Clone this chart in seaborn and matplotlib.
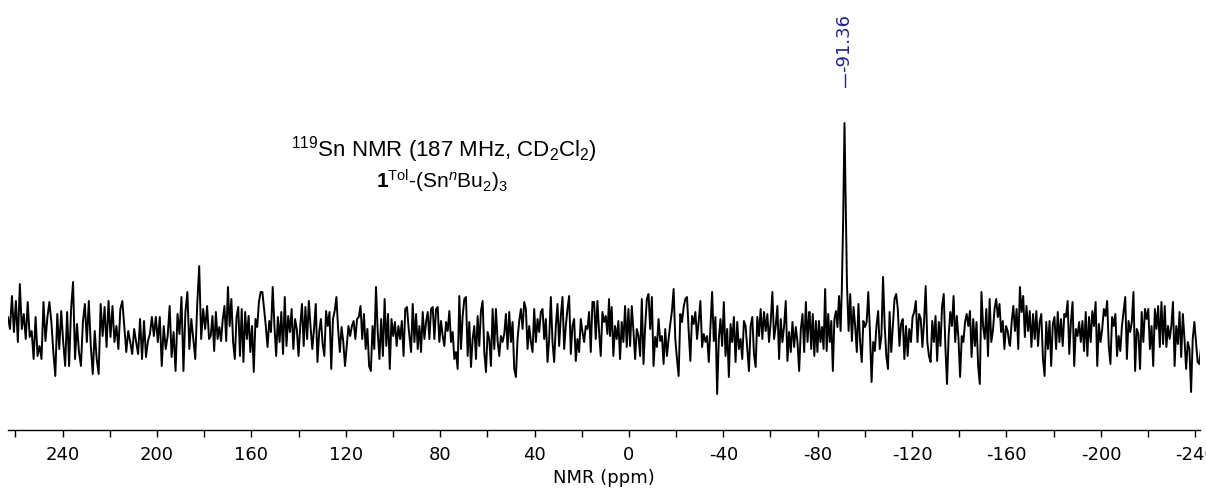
import numpy as np
import pandas as pd
import matplotlib
matplotlib.use("Agg")
import matplotlib.pyplot as plt
import matplotlib.transforms as mtransforms
from matplotlib.ticker import MultipleLocator
import seaborn as sns

# ---- data ----
# chemical-shift range (ppm) covered by each noise segment (start, end)
seg_bounds = [(263.1, 177.9), (177.2, 93.3), (92.3, 8.4), (8.0, -76.4),
              (-76.6, -89.7), (-93.1, -161.2), (-161.5, -242.4)]

seg1 = [92, 80, 113, 77, 108, 67, 125, 80, 95, 70, 107, 72, 78, 50, 92, 53, 63, 50, 107, 68,
        92, 107, 87, 57, 33, 95, 60, 98, 67, 43, 97, 43, 100, 127, 50, 85, 57, 43, 87, 105,
        67, 108, 63, 35, 78, 50, 35, 105, 73, 102, 62, 108, 72, 103, 67, 83, 60, 100, 108, 83,
        57, 78, 67, 55, 80, 67, 55, 90, 50, 88, 52, 68, 75, 92, 73, 92, 67, 92, 43, 83,
        60, 73, 103, 52, 77, 38, 95, 75, 112, 38, 97, 117, 60, 90, 70, 50, 105, 143, 70, 100,
        80, 103, 70]
seg2 = [73, 93, 58, 97, 70, 82, 68, 90, 103, 68, 122, 83, 110, 67, 50, 92, 102, 53, 100, 47,
        97, 70, 93, 57, 83, 37, 90, 82, 107, 117, 117, 100, 83, 62, 88, 77, 122, 83, 53, 92,
        67, 97, 55, 112, 63, 93, 77, 100, 60, 90, 80, 53, 83, 105, 63, 102, 70, 108, 82, 60,
        80, 105, 47, 77, 90, 65, 53, 98, 83, 97, 40, 90, 98, 112, 80, 57, 82, 67, 43, 63,
        83, 73, 83, 88, 70, 90, 92, 103, 70, 95, 60, 80, 43, 38, 83, 60, 122, 77, 50, 90,
        53, 110, 63, 95, 40, 90, 73, 87, 63, 83, 70, 88, 53, 100, 102, 80]
seg3 = [57, 105, 67, 95, 60, 83, 57, 97, 70, 87, 97, 70, 100, 102, 70, 100, 102, 67, 88, 73,
        63, 87, 78, 98, 67, 77, 50, 57, 40, 113, 60, 93, 110, 112, 53, 87, 42, 70, 83, 50,
        93, 63, 98, 108, 57, 37, 77, 70, 43, 100, 60, 100, 68, 53, 73, 67, 75, 95, 60, 97,
        67, 87, 40, 32, 70, 88, 100, 80, 107, 100, 60, 83, 67, 57, 100, 67, 90, 77, 97, 100,
        70, 90, 47, 70, 112, 67, 47, 83, 105, 63, 93, 112, 60, 83, 100, 113, 55, 83, 90, 48,
        70, 57, 90, 77, 67, 83, 80, 97, 57, 107, 107, 70, 108, 77, 53, 97, 87, 93, 75, 110]
seg4 = [73, 102, 53, 83, 70, 88, 50, 87, 67, 103, 62, 100, 63, 103, 78, 50, 80, 73, 53, 110,
        45, 82, 110, 115, 80, 112, 43, 72, 62, 90, 68, 73, 45, 80, 53, 70, 85, 98, 120, 70,
        50, 33, 95, 87, 102, 110, 112, 78, 48, 93, 85, 97, 70, 88, 108, 62, 75, 67, 73, 47,
        83, 117, 68, 92, 15, 70, 90, 63, 107, 53, 80, 32, 85, 67, 92, 47, 87, 60, 70, 50,
        88, 83, 60, 38, 83, 92, 55, 42, 92, 73, 100, 70, 97, 78, 95, 67, 87, 117, 70, 83,
        103, 50, 90, 67, 83, 108, 48, 77, 57, 87, 62, 82, 67, 38, 80, 95, 57, 107, 67, 97]
seg5a = [97, 60, 95, 53, 88, 57, 88, 67, 82, 60, 120, 58, 95, 67, 88, 38, 90, 98, 82, 113, 78]
seg5b = [78, 115, 68, 102, 83, 57, 105, 67, 47, 88, 82, 87, 117, 77, 27, 67, 58, 83, 98, 60,
         73, 132, 83, 53, 40, 97, 57, 83, 110, 115, 100, 63, 85, 90, 50, 83, 53, 80, 67, 92,
         97, 108, 67, 95, 90, 62, 87, 123, 67, 53, 47, 88, 67, 93, 48, 87, 63, 103, 115, 63,
         25, 73, 97, 83, 113, 67, 93, 70, 32, 73, 67, 87, 95, 83, 98, 52, 90, 63, 87, 43,
         25, 117, 83, 70, 100, 53, 110, 67, 78, 100, 110, 92, 105, 77, 88, 60, 83, 78, 65]
seg6 = [63, 87, 103, 78, 100, 60, 122, 97, 113, 72, 103, 78, 98, 62, 95, 70, 98, 63, 87, 95,
        50, 33, 87, 60, 88, 43, 85, 92, 60, 97, 67, 90, 63, 95, 92, 108, 55, 87, 107, 43,
        80, 73, 87, 67, 88, 58, 97, 53, 92, 67, 98, 83, 107, 43, 85, 67, 80, 100, 93, 108,
        63, 45, 92, 83, 95, 53, 73, 58, 83, 98, 112, 50, 88, 77, 87, 117, 38, 80, 75, 40,
        97, 67, 100, 90, 100, 60, 83, 43, 100, 80, 103, 62, 107, 65, 103, 62, 83, 70, 83, 107,
        43, 83, 65, 97, 52, 95, 70, 40, 67, 60, 17, 70, 87, 67, 47, 45, 60]

# the 119Sn resonance
peak_ppm = [-90.2, -90.8, -91.36, -91.9, -92.4]
peak_int = [117, 190, 286, 200, 125]
peak_label = "-91.36"

# ---- assemble spectrum ----
segments = [seg1, seg2, seg3, seg4, seg5a, seg5b, seg6]
parts = []
for i, (vals, (a, b)) in enumerate(zip(segments, seg_bounds)):
    parts.append(pd.DataFrame({"ppm": np.linspace(a, b, len(vals)), "intensity": vals}))
    if i == 4:
        parts.append(pd.DataFrame({"ppm": peak_ppm, "intensity": peak_int}))
df = pd.concat(parts, ignore_index=True)

# ---- plot ----
sns.set_style("white")
plt.rcParams["axes.unicode_minus"] = False
plt.rcParams["text.color"] = "black"
plt.rcParams["axes.labelcolor"] = "black"
plt.rcParams["xtick.color"] = "black"
plt.rcParams["mathtext.fontset"] = "custom"
plt.rcParams["mathtext.rm"] = "Liberation Sans"
plt.rcParams["mathtext.it"] = "Liberation Sans:italic"
plt.rcParams["mathtext.bf"] = "Liberation Sans:bold"

fig = plt.figure(figsize=(12.06, 4.89), dpi=100)
ax = fig.add_axes([8 / 1206, 58 / 489, 1192 / 1206, 431 / 489])

sns.lineplot(data=df, x="ppm", y="intensity", sort=False, estimator=None,
             color="black", linewidth=1.4, ax=ax)

ax.set_xlim(263.1, -242.0)
ax.set_ylim(-21, 410)
ax.set_yticks([])
ax.set_ylabel("")
ax.xaxis.set_major_locator(MultipleLocator(40))
ax.xaxis.set_minor_locator(MultipleLocator(20))
ax.tick_params(axis="x", which="both", direction="out", length=5, width=1,
               color="black", labelcolor="black", pad=5.5, labelsize=13, bottom=True)
ax.set_xlabel("NMR (ppm)", fontsize=13, labelpad=4, color="black")
for s in ["left", "right", "top"]:
    ax.spines[s].set_visible(False)
ax.spines["bottom"].set_color("black")
ax.spines["bottom"].set_linewidth(1)

# peak label
trans = mtransforms.blended_transform_factory(ax.transData, ax.transAxes)
ax.plot([peak_ppm[2], peak_ppm[2]], [0.796, 0.826], transform=trans,
        color="#22228c", linewidth=1)
ax.text(peak_ppm[2], 0.834, peak_label, transform=trans, rotation=90,
        ha="center", va="bottom", fontsize=13, color="#22228c")

# annotation text
ax.text(0.366, 0.652, r"$^{119}$Sn NMR (187 MHz, CD$_2$Cl$_2$)", transform=ax.transAxes,
        ha="center", va="center", fontsize=16, family="Liberation Sans", color="black")
ax.text(0.364, 0.580, r"$\mathbf{1}^{\mathrm{Tol}}$-(Sn$^{n}$Bu$_2$)$_3$", transform=ax.transAxes,
        ha="center", va="center", fontsize=15, family="Liberation Sans", color="black")

fig.savefig("out.png", dpi=100)
